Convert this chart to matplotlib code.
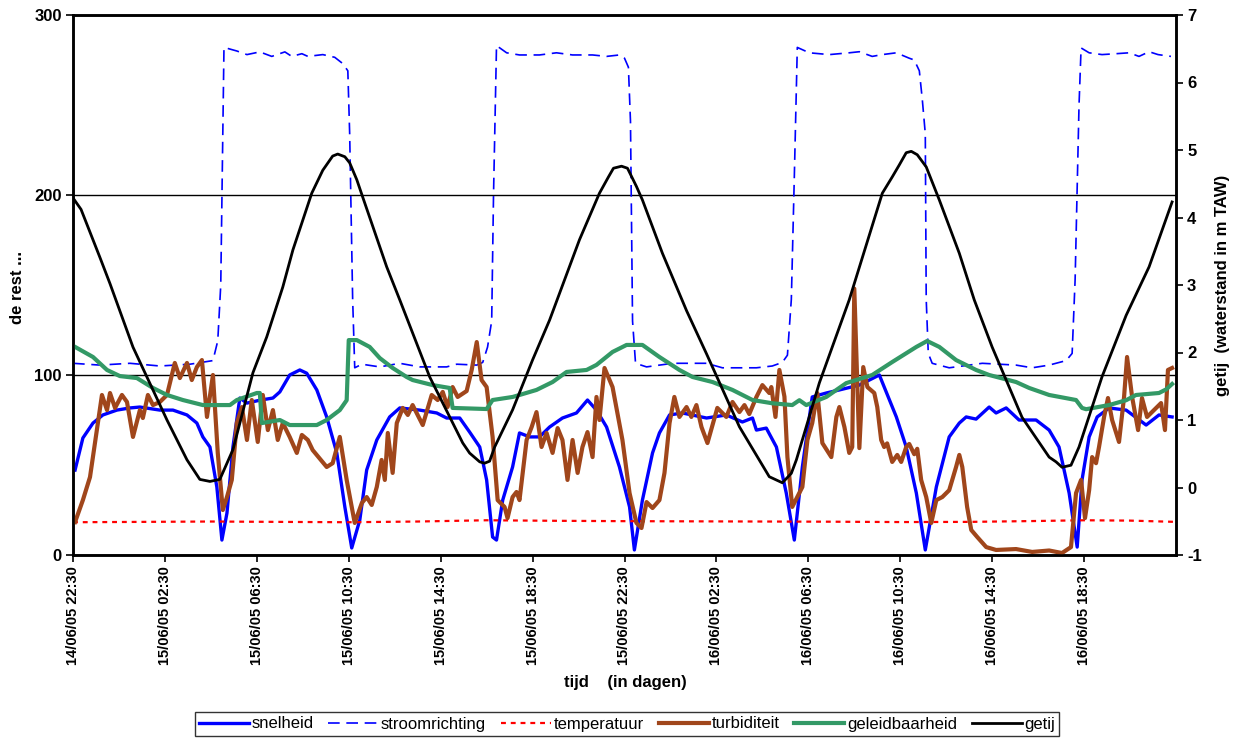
import matplotlib
matplotlib.use("Agg")
import matplotlib.pyplot as plt
from matplotlib.ticker import FixedLocator

plt.rcParams['font.family'] = ['Liberation Sans', 'DejaVu Sans']
plt.rcParams['axes.unicode_minus'] = False

# ---- time axis: hours since 14/06/05 22:30 ----
tick_hours = [0, 4, 8, 12, 16, 20, 24, 28, 32, 36, 40, 44]
tick_labels = ["14/06/05 22:30", "15/06/05 02:30", "15/06/05 06:30", "15/06/05 10:30",
               "15/06/05 14:30", "15/06/05 18:30", "15/06/05 22:30", "16/06/05 02:30",
               "16/06/05 06:30", "16/06/05 10:30", "16/06/05 14:30", "16/06/05 18:30"]

# ---- snelheid (left axis) ----
snel_t = [0.09, 0.43, 0.87, 1.30, 1.91, 2.48, 2.91, 3.78, 4.35, 4.96, 5.39, 5.65, 5.96, 6.26,
          6.48, 6.70, 6.96, 7.26, 7.57, 8.13, 8.70, 9.00, 9.43, 9.87, 10.17, 10.61, 11.04,
          11.48, 11.83, 12.13, 12.48, 12.78, 13.22, 13.78, 14.22, 15.09, 15.83, 16.26, 16.83,
          17.26, 17.70, 18.00, 18.26, 18.43, 18.70, 19.13, 19.43, 19.87, 20.30, 20.74, 21.30,
          21.91, 22.39, 22.78, 23.22, 23.78, 24.22, 24.43, 24.78, 25.22, 25.52, 25.96, 26.52,
          27.57, 28.43, 29.13, 29.57, 29.74, 30.17, 30.61, 31.04, 31.39, 31.74, 32.17, 32.78,
          33.35, 34.22, 35.09, 35.83, 36.26, 36.70, 37.09, 37.57, 38.13, 38.57, 38.87, 39.30,
          39.87, 40.17, 40.61, 41.17, 41.91, 42.48, 42.91, 43.35, 43.70, 43.91, 44.22, 44.57,
          45.09, 45.83, 46.70, 47.26, 47.83]
snel_v = [47.2, 65, 73.3, 77.8, 80.5, 81.7, 82.2, 80.5, 80.5, 77.8, 73.3, 65.6, 60, 37.8,
          8.3, 23.3, 60, 87.2, 84.4, 86, 87.2, 90.6, 100, 102.8, 101, 91.7, 76.7,
          56.7, 26.7, 3.9, 19.4, 47.2, 63.9, 76.7, 81.7, 80.5, 78.9, 76.1, 76.1,
          68.3, 60, 41.7, 10, 8.3, 30.5, 48.9, 67.8, 65.6, 65.6, 71.1, 76.1,
          78.9, 86.1, 80.5, 71.1, 48.9, 26.7, 2.8, 30.5, 56.7, 67.8, 77.8, 78.9,
          76.1, 77.8, 73.9, 76.1, 69.4, 70.5, 60, 34.4, 8.3, 48.9, 87.8, 90,
          91.7, 94.4, 100, 76.7, 60, 34.4, 2.8, 37.8, 65.6, 73.3, 76.7, 75.5,
          82.2, 78.9, 81.7, 75, 75, 69.4, 60, 34.4, 4.4, 41.7, 65.6, 76.7,
          81.7, 80.5, 72.2, 77.8, 76.7]

# ---- stroomrichting (left axis) ----
stroom_t = [0.00, 1.17, 2.48, 3.78, 5.09, 6.09, 6.30, 6.43, 6.57, 7.13, 7.57, 8.13, 8.65,
            9.22, 9.52, 9.96, 10.22, 10.87, 11.39, 11.74, 11.96, 12.04, 12.17, 12.26, 12.57,
            13.35, 14.22, 15.09, 16.26, 16.70, 17.57, 17.83, 18.04, 18.22, 18.30, 18.43,
            18.87, 19.43, 20.30, 21.04, 21.74, 22.61, 23.22, 23.78, 24.00, 24.17, 24.26,
            24.35, 24.48, 24.96, 26.09, 27.57, 28.26, 29.74, 30.43, 30.87, 31.09, 31.26,
            31.39, 31.52, 32.04, 32.91, 33.78, 34.22, 34.78, 35.22, 35.83, 36.39, 36.61,
            36.83, 36.96, 37.09, 37.13, 37.22, 37.39, 38.13, 39.57, 41.04, 41.74, 42.48,
            43.22, 43.48, 43.61, 43.78, 43.87, 44.22, 44.78, 45.39, 45.96, 46.39, 46.83,
            47.22, 47.78]
stroom_v = [106.5, 105.5, 106.5, 105, 106, 108, 119, 150, 282, 280, 278, 279.5, 277,
            279.5, 277, 278.5, 277, 278, 276.5, 273, 269, 234, 142, 104, 106,
            104.5, 106.5, 104.5, 104.5, 106, 105.5, 107, 115.5, 130, 200, 283,
            279, 277.8, 277.8, 279, 277.8, 277.8, 277, 277.8, 276, 271, 241,
            130, 106.5, 104.5, 106.5, 106.5, 104, 104, 105, 107, 111, 142,
            210, 282, 279, 278, 279, 279.6, 277, 278, 279, 276, 275,
            269, 253, 234, 142, 112, 106.5, 104, 106.5, 105.5, 104, 105.5,
            108, 112, 153, 250, 281.7, 279, 278, 278.5, 279, 277, 279.6,
            278, 277]

# ---- temperatuur (left axis) ----
temp_t = [0, 3, 6, 9, 12, 15, 18, 21, 24, 27, 30, 33, 36, 39, 42, 44, 46, 48]
temp_v = [18.2, 18.4, 18.6, 18.4, 18.2, 18.6, 19.3, 19.0, 18.8, 18.7, 18.6, 18.5, 18.3,
          18.4, 18.9, 19.3, 19.1, 18.4]

# ---- turbiditeit (left axis) ----
turb_t = [0.09, 0.43, 0.74, 1.04, 1.26, 1.48, 1.61, 1.83, 2.13, 2.35, 2.61, 2.91, 3.04, 3.26,
          3.48, 3.78, 4.09, 4.43, 4.65, 4.96, 5.17, 5.39, 5.61, 5.83, 6.09, 6.30, 6.52, 6.70,
          6.91, 7.13, 7.35, 7.57, 7.78, 8.04, 8.26, 8.48, 8.70, 8.91, 9.13, 9.43, 9.74, 9.96,
          10.22, 10.43, 11.04, 11.30, 11.61, 11.91, 12.26, 12.57, 12.78, 13.00, 13.22, 13.43,
          13.57, 13.70, 13.91, 14.09, 14.35, 14.57, 14.78, 15.22, 15.61, 15.87, 16.09, 16.30,
          16.52, 16.74, 17.13, 17.35, 17.57, 17.78, 18.00, 18.26, 18.48, 18.78, 18.91, 19.13,
          19.30, 19.43, 19.74, 19.96, 20.17, 20.39, 20.61, 20.87, 21.09, 21.30, 21.52, 21.74,
          21.96, 22.17, 22.39, 22.61, 22.78, 22.91, 23.13, 23.48, 23.91, 24.22, 24.52, 24.74,
          24.96, 25.22, 25.52, 25.74, 25.96, 26.17, 26.39, 26.70, 26.91, 27.13, 27.35, 27.61,
          28.04, 28.43, 28.70, 29.00, 29.22, 29.43, 29.74, 30.00, 30.30, 30.39, 30.57, 30.74,
          30.96, 31.09, 31.30, 31.52, 31.74, 31.96, 32.17, 32.39, 32.61, 33.00, 33.22, 33.35,
          33.57, 33.78, 33.91, 34.00, 34.22, 34.39, 34.57, 34.87, 35.00, 35.17, 35.30, 35.43,
          35.65, 35.87, 36.04, 36.26, 36.39, 36.61, 36.74, 36.91, 37.13, 37.35, 37.57, 37.83,
          38.13, 38.43, 38.57, 38.70, 38.91, 39.09, 39.35, 39.74, 40.17, 41.04, 41.74, 42.48,
          43.04, 43.43, 43.65, 43.87, 44.04, 44.22, 44.35, 44.52, 44.65, 44.87, 45.04, 45.22,
          45.52, 45.74, 45.87, 46.09, 46.35, 46.52, 46.74, 47.04, 47.35, 47.52, 47.65, 47.83]
turb_v = [18.3, 30.5, 43.3, 69.4, 88.9, 80.5, 90, 81.7, 88.9, 85, 65.6, 80.5, 76.1, 88.9,
          83.3, 85, 88.9, 106.7, 98.3, 106.7, 97.2, 104.4, 108.3, 76.7, 100, 56.7, 25, 32.2,
          41.7, 73.3, 82.2, 63.9, 86.1, 62.8, 88.9, 69.4, 80.5, 63.9, 73.3, 65.6, 56.7, 66.7,
          63.9, 58.3, 48.9, 51, 65.6, 41.7, 17.8, 28.9, 32.2, 27.8, 37.8, 52.8,
          41.7, 67.8, 45.6, 73.3, 81.7, 77.8, 83.3, 72.2, 88.9, 86.1, 90.6, 82.2,
          93.3, 87.8, 91.1, 102.8, 118.3, 97.2, 93.3, 65.6, 30.5, 26.7, 20.5, 32.2,
          35, 30.5, 63.9, 71.1, 79.4, 60, 67.8, 56.7, 70.5, 63.9, 41.7, 63.9,
          45.6, 60, 68.3, 54.4, 87.8, 75, 103.9, 93.3, 63.9, 34.4, 17.8, 15,
          29.4, 26.1, 30.5, 45.6, 73.3, 87.8, 76.7, 82.2, 76.7, 83.3, 71.1, 62.2,
          81.7, 76.7, 85, 79.4, 83.3, 78.3, 87.8, 94.4, 90, 93.3, 76.7, 102.8,
          88, 54.4, 26.7, 32.2, 37.8, 63.9, 73.3, 90, 62.2, 54.4, 76.7, 82.2,
          71.1, 56.7, 60, 148, 59.4, 104.4, 93.3, 90, 82.2, 63.9, 60, 62,
          51.7, 55.6, 51.7, 60, 61.7, 56, 59, 41.7, 32.2, 17.8, 30.5, 32.2,
          36, 48.9, 55.6, 48.9, 26.7, 13.9, 10, 4.4, 2.8, 3.3, 1.7, 2.5,
          1.1, 4.4, 34.4, 41.7, 20.5, 36, 54.4, 51, 60, 76.7, 87.2, 75,
          62.8, 87.8, 110, 87.8, 69.4, 87.2, 76.7, 80.5, 84.4, 69.4, 102.8, 103.9]

# ---- geleidbaarheid (left axis) ----
gel_t = [0.09, 0.87, 1.48, 2.04, 2.78, 3.48, 4.09, 4.78, 5.65, 6.83, 7.13, 8.00, 8.13, 8.22,
         9.00, 9.43, 10.61, 11.04, 11.61, 11.91, 12.00, 12.35, 12.91, 13.35, 13.91, 14.52,
         14.78, 15.65, 16.39, 16.52, 18.00, 18.26, 19.13, 19.43, 20.17, 20.87, 21.48, 22.35,
         22.78, 23.48, 24.09, 24.78, 25.52, 26.39, 26.96, 27.83, 28.70, 29.57, 30.43, 31.30,
         31.61, 31.91, 32.78, 33.65, 34.78, 35.65, 36.70, 37.17, 37.70, 38.43, 39.30, 39.87,
         41.04, 41.61, 42.48, 43.65, 43.91, 44.09, 44.52, 45.09, 45.83, 46.26, 47.26, 47.57,
         47.83]
gel_v = [115.6, 110, 102.8, 99.4, 98.3, 92.8, 88.9, 86.1, 83.3, 83.3, 86.1, 90, 90, 73.3,
         75, 72.2, 72.2, 75, 80.5, 86, 119.4, 119.4, 115.6, 109.4, 103.9, 98.9,
         97.2, 94.4, 92.8, 81.7, 81.1, 86.1, 87.8, 88.9, 91.7, 96.1, 101.7, 102.8,
         105.6, 112.8, 116.7, 116.7, 110, 102.8, 98.9, 96.1, 91.7, 86.1, 84.3, 83.3,
         86, 83.3, 87.8, 95.5, 100, 107.2, 115.6, 118.9, 115.6, 108.3, 102.8, 100,
         96.1, 92.8, 88.9, 86.1, 81.7, 81, 82, 83.3, 86, 88.9, 90, 92,
         95]

# ---- getij (right axis, m TAW) ----
getij_t = [0.00, 0.35, 1.17, 1.61, 2.61, 4.09, 4.96, 5.52, 5.96, 6.39, 6.96, 7.83, 8.43, 9.13,
           9.57, 10.39, 10.87, 11.30, 11.52, 11.83, 12.04, 12.35, 12.61, 13.65, 14.22, 15.52,
           16.96, 17.26, 17.70, 17.91, 18.13, 18.35, 19.13, 20.00, 20.74, 22.04, 22.91, 23.30,
           23.52, 23.87, 24.13, 24.52, 24.78, 25.65, 26.70, 27.57, 29.00, 30.30, 30.87, 31.26,
           31.48, 32.48, 33.78, 35.22, 35.65, 35.96, 36.26, 36.48, 36.74, 37.13, 37.70, 38.57,
           39.22, 40.00, 41.30, 42.48, 42.78, 43.04, 43.43, 43.78, 44.78, 45.83, 46.83, 47.83]
getij_v = [4.29, 4.12, 3.41, 3.02, 2.08, 1.00, 0.41, 0.12, 0.09, 0.12, 0.56, 1.70, 2.23, 2.97,
           3.52, 4.36, 4.70, 4.91, 4.94, 4.90, 4.81, 4.56, 4.30, 3.27, 2.78, 1.64,
           0.66, 0.51, 0.38, 0.36, 0.39, 0.60, 1.15, 1.89, 2.48, 3.67, 4.36, 4.60,
           4.73, 4.76, 4.73, 4.46, 4.26, 3.47, 2.62, 1.98, 0.90, 0.16, 0.07, 0.21,
           0.41, 1.55, 2.78, 4.36, 4.60, 4.78, 4.96, 4.98, 4.93, 4.75, 4.26, 3.47,
           2.78, 2.08, 1.04, 0.45, 0.38, 0.30, 0.33, 0.60, 1.64, 2.55, 3.27, 4.23]

W, H = 1247, 742
fig = plt.figure(figsize=(W / 100, H / 100), dpi=100)
ax = fig.add_axes([73 / W, 1 - 555 / H, (1176 - 73) / W, (555 - 15) / H])
ax2 = ax.twinx()

l1, = ax.plot(snel_t, snel_v, color='#0000ff', lw=2.4, label='snelheid', zorder=3)
l2, = ax.plot(stroom_t, stroom_v, color='#0000ff', lw=1.2, dashes=(7, 4),
              label='stroomrichting', zorder=3)
l3, = ax.plot(temp_t, temp_v, color='#ff0000', lw=1.6, dashes=(2.2, 2.2),
              label='temperatuur', zorder=3)
l4, = ax.plot(turb_t, turb_v, color='#a0461b', lw=3.0, label='turbiditeit', zorder=4)
l5, = ax.plot(gel_t, gel_v, color='#339966', lw=3.0, label='geleidbaarheid', zorder=5)
l6, = ax2.plot(getij_t, getij_v, color='black', lw=2.0, label='getij', zorder=6)

ax.set_xlim(0, 48)
ax.set_ylim(0, 300)
ax2.set_ylim(-1, 7)

ax.yaxis.set_major_locator(FixedLocator([0, 100, 200, 300]))
ax2.yaxis.set_major_locator(FixedLocator([-1, 0, 1, 2, 3, 4, 5, 6, 7]))
ax.xaxis.set_major_locator(FixedLocator(tick_hours))
ax.set_xticklabels(tick_labels, rotation=90, fontsize=10.5, fontweight='bold')

for lab in ax.get_yticklabels():
    lab.set_fontsize(12)
    lab.set_fontweight('bold')
for lab in ax2.get_yticklabels():
    lab.set_fontsize(12)
    lab.set_fontweight('bold')

ax.grid(axis='y', color='black', lw=1.0)
ax.set_axisbelow(True)
ax.tick_params(axis='both', direction='out', length=5, width=1.2, pad=3)
ax2.tick_params(axis='y', direction='out', length=5, width=1.2, pad=3)

for a in (ax, ax2):
    for s in a.spines.values():
        s.set_linewidth(1.8)
        s.set_color('black')

fig.text(18 / W, 1 - 287 / H, 'de rest ...', rotation=90, fontsize=12, fontweight='bold',
         ha='center', va='center')
fig.text(1223 / W, 1 - 285 / H, 'getij  (waterstand in m TAW)', rotation=90, fontsize=12,
         fontweight='bold', ha='center', va='center')
fig.text(625 / W, 1 - 683 / H, 'tijd    (in dagen)', fontsize=12, fontweight='bold',
         ha='center', va='center')

leg = fig.legend(handles=[l1, l2, l3, l4, l5, l6], loc='center',
                 bbox_to_anchor=(627 / W, 1 - 724 / H), ncol=6, fontsize=12,
                 frameon=True, fancybox=False, edgecolor='black', handlelength=3.0,
                 handletextpad=0.15, columnspacing=0.9, borderpad=0.25, borderaxespad=0)
leg.get_frame().set_linewidth(1.0)

fig.savefig('out.png', dpi=100)
